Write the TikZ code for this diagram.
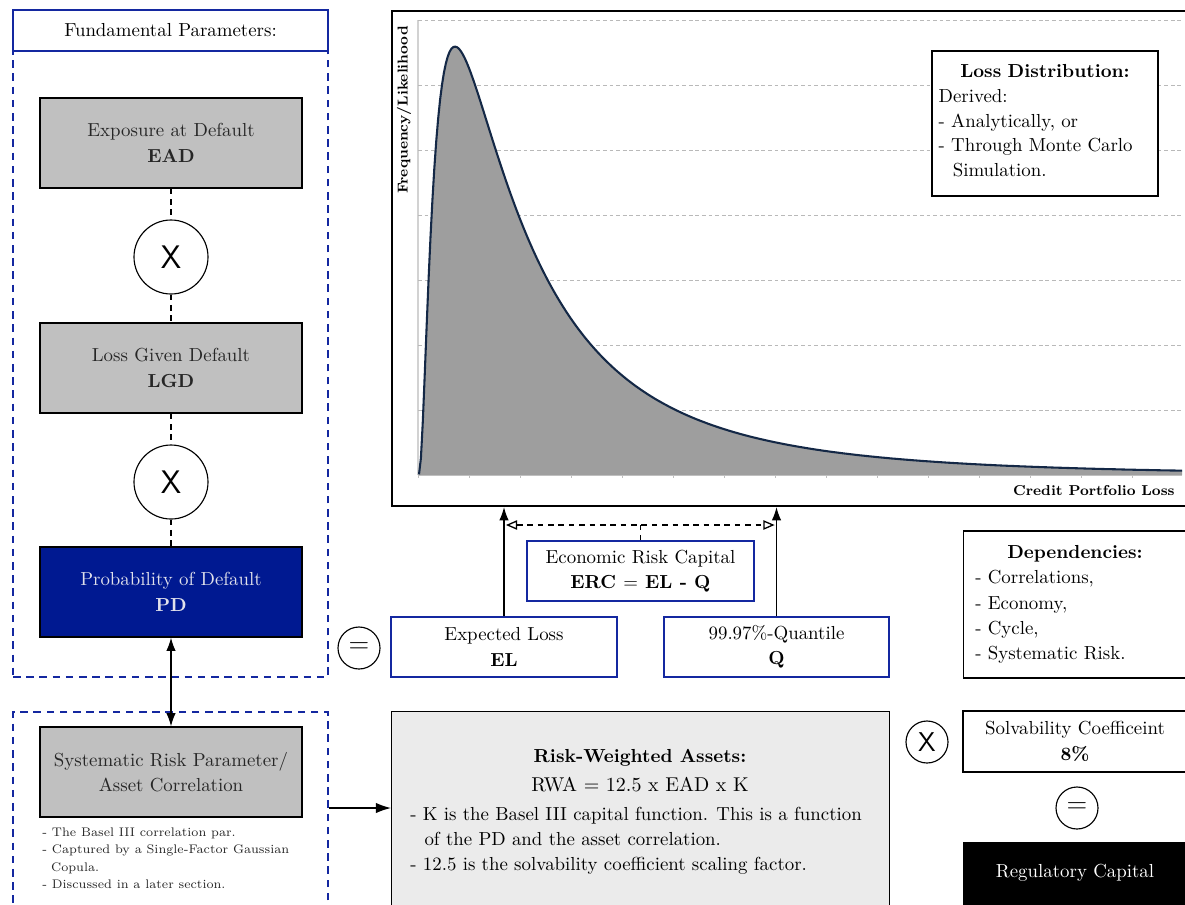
\documentclass[tikz,border=0pt]{standalone}
\usetikzlibrary{arrows.meta}
\definecolor{myblue}{RGB}{20,40,160}
\definecolor{pdblue}{RGB}{0,25,145}
\definecolor{pdtext}{RGB}{225,225,235}
\definecolor{boxgray}{RGB}{192,192,192}
\definecolor{rwagray}{RGB}{235,235,235}
\definecolor{curvefill}{RGB}{158,158,158}
\definecolor{curveline}{RGB}{20,40,70}
\newcommand\pxu{0.53pt}
\begin{document}
\begin{tikzpicture}[x=0.53pt,y=-0.53pt,
  dashbox/.style={draw=myblue, line width=0.8pt, dash pattern=on 4pt off 3pt},
  bluebox/.style={draw=myblue, line width=0.8pt, fill=white, align=center},
  graybox/.style={draw=black, line width=0.7pt, fill=boxgray, align=center, minimum width=262*\pxu, minimum height=90*\pxu, text=black!85},
  opcirc/.style={circle, draw=black, line width=0.6pt, fill=white, inner sep=0pt, font=\sffamily},
  blackbox/.style={draw=black, line width=0.7pt, fill=white, align=center},
  conn/.style={line width=0.7pt},
  dconn/.style={line width=0.7pt, dash pattern=on 3pt off 2.5pt}
]
\useasboundingbox (0,0) rectangle (1185,904);
\clip (0,0) rectangle (1185,904);

% ---------------- left column ----------------
\node[dashbox, minimum width=315*\pxu, minimum height=667*\pxu] (fund) at (170.5,343.5) {};
\node[bluebox, minimum width=315*\pxu, minimum height=41*\pxu] (head) at (170.5,30.5) {Fundamental Parameters:};

\node[graybox] (ead) at (171,143) {Exposure at Default\\[2pt]\textbf{EAD}};
\node[opcirc, minimum size=74*\pxu, font=\sffamily\LARGE] (x1) at (171,257) {X};
\node[graybox] (lgd) at (171,368) {Loss Given Default\\[2pt]\textbf{LGD}};
\node[opcirc, minimum size=74*\pxu, font=\sffamily\LARGE] (x2) at (171,482) {X};
\node[graybox, fill=pdblue, text=pdtext] (pd) at (171,592) {Probability of Default\\[2pt]\textbf{PD}};

\draw[dconn] (ead) -- (x1);
\draw[dconn] (x1) -- (lgd);
\draw[dconn] (lgd) -- (x2);
\draw[dconn] (x2) -- (pd);

\node[dashbox, minimum width=315*\pxu, minimum height=230*\pxu] (sysdash) at (170.5,827) {};
\node[graybox] (sys) at (171,772) {Systematic Risk Parameter/\\[1pt]Asset Correlation};
\node[anchor=north west, align=left, inner sep=0pt, text=black!85,
      font=\fontsize{6.6}{9.3}\selectfont] (sysnotes) at (42,827)
  {- The Basel III correlation par.\\- Captured by a Single-Factor Gaussian\\\hspace*{0.7em}Copula.\\- Discussed in a later section.};

\draw[conn, {Latex[length=7pt,width=5pt]}-{Latex[length=7pt,width=5pt]}] (pd) -- (sys);

% ---------------- chart ----------------
\node[draw=black, line width=1.1pt, minimum width=830*\pxu, minimum height=495*\pxu, anchor=north west, inner sep=0pt] (chart) at (391,10) {};
\draw[gray!35, line width=0.6pt] (418,20) -- (418,475);
\foreach \yy in {20,85,150,215,280,345,410}
  \draw[gray!55, line width=0.4pt, dash pattern=on 2pt off 1.5pt] (418,\yy) -- (1182,\yy);
\fill[curvefill] (419,475) -- plot[domain=1:764, samples=400] ({418+\x}, {475-428*exp(4.1109-ln(\x)-(ln(\x)-4.61)^2/2)}) -- (1182,475) -- cycle;
\draw[gray!50, line width=0.4pt] (418,475) -- (1182,475);
\foreach \xx in {418,469,...,1182}
  \draw[gray!50, line width=0.4pt] (\xx,475) -- (\xx,478);
\draw[curveline, line width=1.1pt] plot[domain=1:764, samples=400] ({418+\x}, {475-428*exp(4.1109-ln(\x)-(ln(\x)-4.61)^2/2)});
\node[rotate=90, font=\fontsize{7.6}{9}\selectfont\bfseries, inner sep=0pt] (ylab) at (404,110) {Frequency/Likelihood};
\node[anchor=east, font=\fontsize{7.6}{9}\selectfont\bfseries, inner sep=0pt] (xlab) at (1175,491) {Credit Portfolio Loss};

\node[blackbox, align=left, text width=112*\pxu*1.9, minimum height=145*\pxu, inner xsep=3.5pt,
      font=\fontsize{10}{13}\selectfont] (ldist) at (1045,123.5)
  {{\centering\textbf{Loss Distribution:}\par}
   Derived:\par
   - Analytically, or\par
   - Through Monte Carlo\par
   \hspace*{0.75em}Simulation.\vspace{3pt}};

% ---------------- EL / Q / ERC ----------------
\node[bluebox, minimum width=226*\pxu, minimum height=60*\pxu] (el) at (504,647) {Expected Loss\\[1.5pt]\textbf{EL}};
\node[bluebox, minimum width=225*\pxu, minimum height=60*\pxu] (q) at (776.5,647) {99.97\%-Quantile\\[1.5pt]\textbf{Q}};
\node[bluebox, minimum width=227*\pxu, minimum height=60*\pxu] (erc) at (640.5,571) {Economic Risk Capital\\[1.5pt]\textbf{ERC $=$ EL - Q}};
\coordinate (lvl) at (0,525);
\draw[conn, -{Latex[length=7pt,width=5pt]}] (el.north) -- (el.north |- chart.south);
\draw[conn, -{Latex[length=7pt,width=5pt]}] (q.north) -- (q.north |- chart.south);
\draw[dconn, {Triangle[open,length=6pt,width=5pt]}-{Triangle[open,length=6pt,width=5pt]}] ([xshift=1pt]el.north |- lvl) -- ([xshift=-1pt]q.north |- lvl);
\draw[dconn] (erc.north) -- (erc.north |- lvl);
\node[opcirc, minimum size=42*\pxu, font=\sffamily\Large] (eq1) at (359,648) {=};

% ---------------- Dependencies ----------------
\node[blackbox, align=left, text width=224*\pxu-13pt, minimum height=147*\pxu, inner xsep=6.4pt,
      font=\fontsize{10}{13.4}\selectfont] (dep) at (1075,604.5)
  {{\centering\textbf{Dependencies:}\par}
   - Correlations,\par
   - Economy,\par
   - Cycle,\par
   - Systematic Risk.};

% ---------------- RWA ----------------
\node[draw=black, line width=0.7pt, fill=rwagray, minimum width=498*\pxu, minimum height=230*\pxu, anchor=north west, inner sep=0pt] (rwa) at (391,711) {};
\node (rwatitle) at (640,758) {\textbf{Risk-Weighted Assets:}};
\node[font=\fontsize{10.6}{12}\selectfont] (rwaeq) at (640,785) {RWA = 12.5 x EAD x K};
\node[anchor=north west, align=left, inner sep=0pt, font=\fontsize{10}{13.3}\selectfont] (rwanotes) at (410,807)
  {- K is the Basel III capital function. This is a function\\\hspace*{0.75em}of the PD and the asset correlation.\\- 12.5 is the solvability coefficient scaling factor.};
\coordinate (ay) at (0,808);
\draw[conn, -{Latex[length=8pt,width=5.5pt]}] (sysdash.east |- ay) -- (rwa.west |- ay);

% ---------------- regulatory capital ----------------
\node[opcirc, minimum size=42*\pxu, font=\sffamily\Large] (x3) at (927,742) {X};
\node[blackbox, minimum width=224*\pxu, minimum height=61*\pxu] (solv) at (1075,741.5) {Solvability Coefficeint\\[1.5pt]\textbf{8\%}};
\node[opcirc, minimum size=42*\pxu, font=\sffamily\Large] (eq2) at (1077,808) {=};
\node[draw=black, fill=black, text=white, minimum width=224*\pxu, minimum height=62*\pxu] (reg) at (1075,873) {Regulatory Capital};
\end{tikzpicture}
\end{document}
